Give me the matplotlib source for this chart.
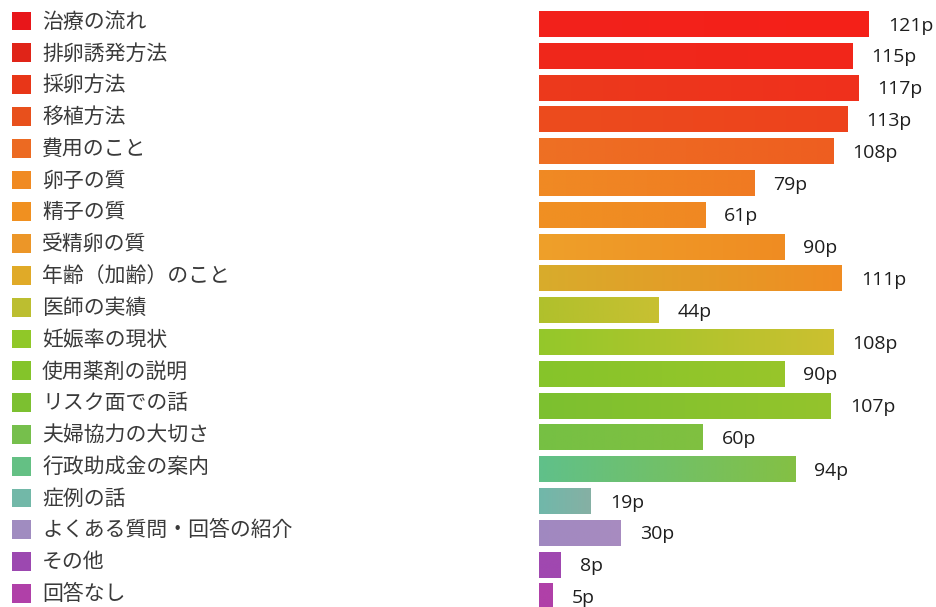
import numpy as np
import matplotlib
matplotlib.use("Agg")
import matplotlib.pyplot as plt
from matplotlib.colors import LinearSegmentedColormap

# ---- data ----
categories = [
    "治療の流れ", "排卵誘発方法", "採卵方法", "移植方法", "費用のこと",
    "卵子の質", "精子の質", "受精卵の質", "年齢（加齢）のこと", "医師の実績",
    "妊娠率の現状", "使用薬剤の説明", "リスク面での話", "夫婦協力の大切さ",
    "行政助成金の案内", "症例の話", "よくある質問・回答の紹介", "その他", "回答なし",
]
values = [121, 115, 117, 113, 108, 79, 61, 90, 111, 44,
          108, 90, 107, 60, 94, 19, 30, 8, 5]
value_labels = [f"{v}p" for v in values]

# ---- colours: key square, bar start (left) and bar end (right) ----
key_colors = ["#e8161a", "#e02418", "#e83618", "#e8501c", "#ec6a22",
              "#f08a22", "#f09020", "#ec9628", "#e0aa28", "#bcbe30",
              "#90c828", "#84c42a", "#7cc030", "#76bf4c", "#64c084",
              "#72b8a8", "#a08cc0", "#9c48b0", "#b040a8"]
bar_left = ["#f2221c", "#ef281c", "#ec3a1c", "#ec4c1e", "#ee7024",
            "#f08a24", "#f09022", "#eea02a", "#d8ac2c", "#b0c02c",
            "#94c82a", "#86c42a", "#7cc030", "#76c044", "#60c08a",
            "#70b8aa", "#a088c0", "#a048b0", "#b040a8"]
bar_right = ["#f52018", "#f2261a", "#f0301c", "#ee421c", "#ee5e20",
             "#f07a22", "#f08822", "#f08c22", "#f08c22", "#c8c032",
             "#ccc030", "#98c62a", "#94c42c", "#80c040", "#84c044",
             "#86b0a4", "#a88cc0", "#a048b0", "#b040a8"]

W, H, DPI = 937, 607, 100
fig = plt.figure(figsize=(W / DPI, H / DPI), dpi=DPI)
fig.patch.set_facecolor("white")

row_px = 31.8      # pixel distance between rows
first_px = 24.0    # centre of the first bar from the top
bar_x0 = 539       # left edge of bars in pixels
px_per_unit = 2.727

y_top = -first_px / row_px
y_bot = (H - first_px) / row_px

ax = fig.add_axes([bar_x0 / W, 0, (W - bar_x0) / W, 1])
ax.set_xlim(0, (W - bar_x0) / px_per_unit)
ax.set_ylim(y_bot, y_top)
ax.axis("off")

ypos = np.arange(len(values))
bars = ax.barh(ypos, values, height=0.82, color=bar_left, linewidth=0)

grad = np.linspace(0, 1, 256).reshape(1, -1)
for bar, c0, c1 in zip(bars, bar_left, bar_right):
    x0, y0 = bar.get_x(), bar.get_y()
    w, h = bar.get_width(), bar.get_height()
    cmap = LinearSegmentedColormap.from_list("g", [c0, c1])
    im = ax.imshow(grad, cmap=cmap, aspect="auto",
                   extent=(x0, x0 + w, y0 + h, y0), interpolation="bilinear",
                   zorder=2)
    im.set_clip_path(bar)

ax.set_xlim(0, (W - bar_x0) / px_per_unit)
ax.set_ylim(y_bot, y_top)

gap = 19 / px_per_unit
for y, v, lab in zip(ypos, values, value_labels):
    ax.text(v + gap, y + 0.05, lab, va="center", ha="left",
            fontsize=14, color="#1e1e1e", family=["Open Sans", "DejaVu Sans"],
            zorder=3)

# ---- left-hand key: squares and category names ----
axl = fig.add_axes([0, 0, bar_x0 / W, 1], sharey=ax)
axl.set_xlim(0, bar_x0)
axl.set_ylim(y_bot, y_top)
axl.axis("off")

shift = -3.0 / row_px
axl.scatter(np.full(len(ypos), 21.5), ypos + shift, marker="s", s=185,
            c=key_colors, linewidths=0)
for y, name in zip(ypos, categories):
    axl.text(42, y + shift + 0.02, name, va="center", ha="left",
             fontsize=15, color="#3a3a3a",
             family=["Noto Sans CJK JP", "DejaVu Sans"])

fig.savefig("out.png", dpi=DPI, facecolor="white")
